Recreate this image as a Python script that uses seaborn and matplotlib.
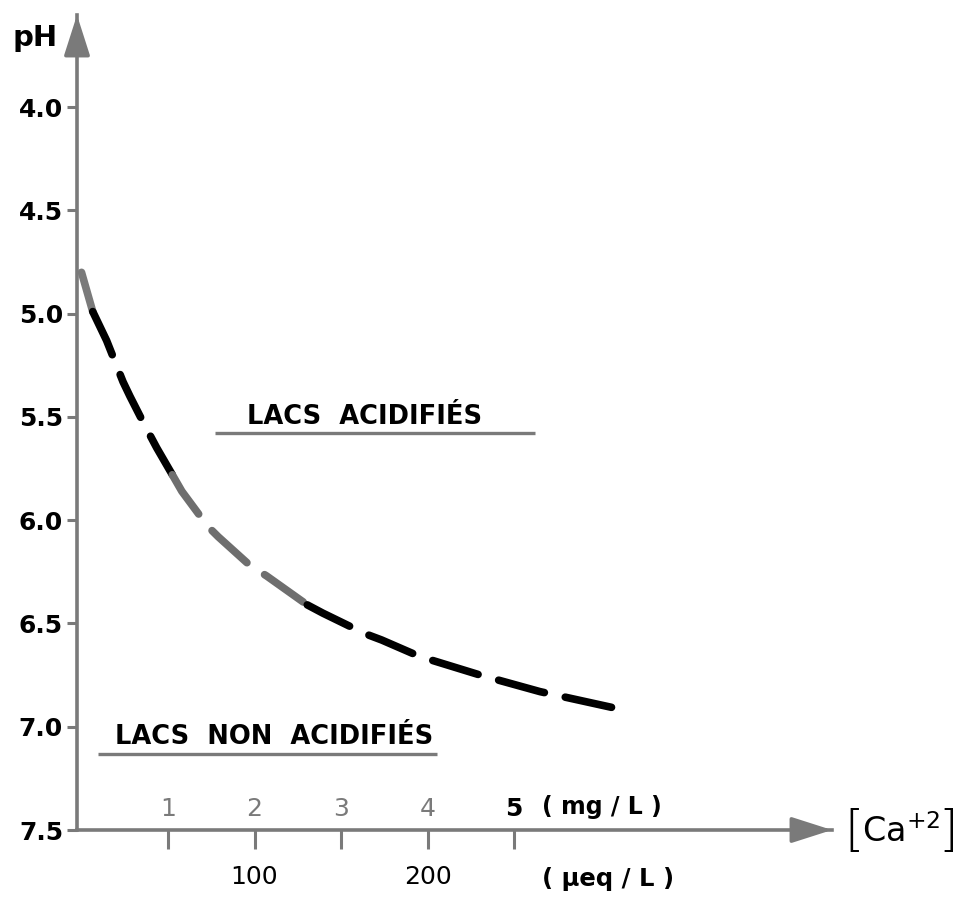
import seaborn as sns
import matplotlib.pyplot as plt
import numpy as np

# --------------------------
# 1. Data
# --------------------------
ca_mg = [0.0, 0.13, 0.29, 0.48, 0.56, 0.73, 0.87, 1.05, 1.16, 1.46, 1.58,
         1.95, 2.14, 2.61, 2.79, 3.28, 3.47, 3.91, 4.61, 5.30, 6.17]
ph = [4.80, 4.99, 5.13, 5.33, 5.40, 5.54, 5.65, 5.78, 5.86, 6.03, 6.08,
      6.22, 6.27, 6.41, 6.45, 6.55, 6.58, 6.66, 6.75, 6.83, 6.91]

ph_ticks = [4.0, 4.5, 5.0, 5.5, 6.0, 6.5, 7.0, 7.5]
mg_ticks = [1, 2, 3, 4, 5]
ueq_ticks = [100, 200]

# boundary lines between the two lake groups
acid_line_ph = 5.58
acid_line_x = [1.54, 5.24]
nonacid_line_ph = 7.13
nonacid_line_x = [0.19, 4.11]

# curve pieces (index ranges) that came out grey in the scan
segments = [(0, 1, "#7a7a7a"), (1, 7, "black"), (7, 13, "#6e6e6e"), (13, 20, "black")]

# ---------------------------------
# 2. Style
# ---------------------------------
sns.set_style("white")
plt.rcParams["font.family"] = ["DejaVu Sans"]
plt.rcParams["text.color"] = "black"
grey = "#7a7a7a"

fig = plt.figure(figsize=(9.7, 8.98), dpi=100)
ax = fig.add_axes([77 / 970, 68 / 898, 755 / 970, 815 / 898])

# ---------------------------------
# 3. Curve
# ---------------------------------
for i0, i1, col in segments:
    sns.lineplot(x=ca_mg[i0:i1 + 1], y=ph[i0:i1 + 1], ax=ax, color=col,
                 lw=5.5, linestyle=(0, (6.2, 2.8)), dash_capstyle="round",
                 sort=False, estimator=None)

ax.hlines(acid_line_ph, *acid_line_x, color=grey, lw=2.4)
ax.hlines(nonacid_line_ph, *nonacid_line_x, color=grey, lw=2.4)

ax.text(1.91, 5.50, "LACS  ACIDIFIÉS", fontsize=18.5, weight="bold", ha="left", va="center")
ax.text(0.39, 7.05, "LACS  NON  ACIDIFIÉS", fontsize=18.5, weight="bold", ha="left", va="center")

# ---------------------------------
# 4. Axes, ticks, arrows
# ---------------------------------
ax.set_xlim(-0.052, 8.676)
ax.set_ylim(7.5, 3.554)
ax.set_xlabel("")
ax.set_ylabel("")

for side in ["top", "right"]:
    ax.spines[side].set_visible(False)
for side in ["left", "bottom"]:
    ax.spines[side].set_color(grey)
    ax.spines[side].set_linewidth(2.6)

ax.set_yticks(ph_ticks)
ax.set_yticklabels([f"{v:.1f}" for v in ph_ticks], fontsize=18, weight="bold")
ax.tick_params(axis="y", left=True, direction="out", length=7, width=2.2,
               color=grey, labelcolor="black", pad=3)

ax.set_xticks(mg_ticks)
ax.set_xticklabels([str(v) for v in mg_ticks], fontsize=18)
ax.tick_params(axis="x", bottom=True, direction="out", length=14, width=2.2,
               color=grey, labelcolor="black", pad=-38)
for lab in ax.get_xticklabels()[:-1]:
    lab.set_color(grey)
ax.get_xticklabels()[-1].set_weight("bold")

sec = ax.secondary_xaxis("bottom", functions=(lambda x: x * 50, lambda x: x / 50))
sec.set_xticks(ueq_ticks)
sec.set_xticklabels([str(v) for v in ueq_ticks], fontsize=18)
sec.tick_params(axis="x", length=0, pad=25, labelcolor="black")
sec.spines["bottom"].set_visible(False)

arrow = dict(arrowstyle="-|>,head_length=2.5,head_width=0.8", color=grey, lw=2.6,
             mutation_scale=10, shrinkA=0, shrinkB=0)
ax.annotate("", xy=(0, 1), xytext=(0, 0.95), xycoords="axes fraction", arrowprops=arrow)
ax.annotate("", xy=(1, 0), xytext=(0.95, 0), xycoords="axes fraction", arrowprops=arrow)

ax.text(-0.8, 3.665, "pH", fontsize=21, weight="bold", ha="left", va="center", clip_on=False)
ax.text(5.32, 7.39, "( mg / L )", fontsize=17, weight="bold", ha="left", va="center", clip_on=False)
ax.text(5.32, 7.735, "( µeq / L )", fontsize=17.5, weight="bold", ha="left", va="center", clip_on=False)
ax.text(8.82, 7.51, "[", fontsize=36, weight="light", ha="left", va="center", clip_on=False)
ax.text(9.02, 7.51, r"Ca$^{+2}$", fontsize=24, ha="left", va="center", clip_on=False)
ax.text(9.9, 7.51, "]", fontsize=36, weight="light", ha="left", va="center", clip_on=False)

plt.savefig("out.png", dpi=100)
plt.close()
